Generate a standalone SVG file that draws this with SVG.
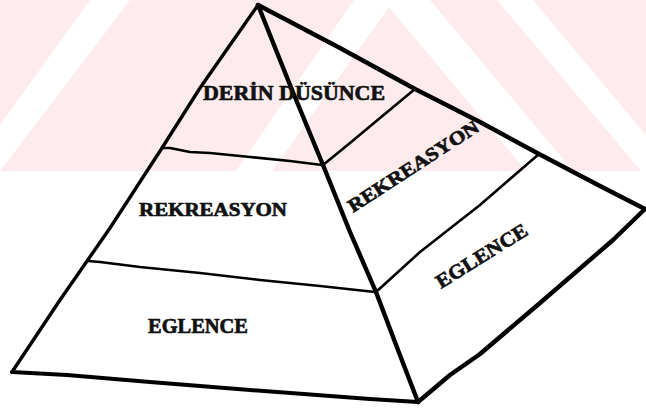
<svg xmlns="http://www.w3.org/2000/svg" width="646" height="409" viewBox="0 0 646 409">
<style>
.lbl{font-family:"Liberation Serif","Times New Roman",serif;font-weight:bold;fill:#111;stroke:#111;stroke-width:0.7;stroke-linejoin:round;}
.edge{fill:none;stroke:#000;stroke-linejoin:round;stroke-linecap:round;}
.band{fill:none;stroke:#000;stroke-width:2.6;stroke-linejoin:round;stroke-linecap:round;}
.wm{fill:#fdebee;}
.wmw{fill:#ffffff;}
</style>
<rect width="646" height="409" fill="#ffffff"/>
<g id="watermark">
<rect class="wm" x="0" y="0" width="646" height="171"/>
<polygon class="wmw" points="90,0 130,0 0,171 0,125"/>
<polygon class="wmw" points="354,0 394,0 272,171 236,171"/>
<polygon class="wmw" points="383,0 430,0 573,171 526,171"/>
<polygon class="wmw" points="497,0 533,0 676,171 641,171"/>
</g>
<g id="connectors">
<polyline class="edge" stroke-width="3.4" points="12,372 60,300 110,228 162,148 200,88 230,45 258,5"/>
<polyline class="edge" stroke-width="4" points="12,372 67,375 150,382 250,390 370,399 418,402"/>
<polyline class="edge" stroke-width="4.4" points="258,5 290,85 323,165 350,232 376,292 398,350 418,402"/>
<polyline class="edge" stroke-width="4.4" points="258,5 340,48 415,89 480,122 539,154 600,186 645,209"/>
<polyline class="edge" stroke-width="4.4" points="645,209 613,240 540,303 480,354 450,375 418,402"/>
<polyline class="band" points="162,148 170,148 190,152 210,153 250,157 290,161 322,165"/>
<polyline class="band" points="88,261 100,262 140,267 200,273 260,280 320,286 375,292"/>
<polyline class="band" points="323,165 350,143 380,118 415,89"/>
<polyline class="band" points="376,292 420,252 480,205 539,154"/>
</g>
<g id="front-top"><text class="lbl" x="203" y="100" font-size="22" textLength="182" lengthAdjust="spacingAndGlyphs">DERİN DÜSÜNCE</text></g>
<g id="front-middle"><text class="lbl" x="139" y="216" font-size="19" textLength="148" lengthAdjust="spacingAndGlyphs">REKREASYON</text></g>
<g id="front-bottom"><text class="lbl" x="148" y="333" font-size="21" textLength="100" lengthAdjust="spacingAndGlyphs">EGLENCE</text></g>
<g id="side-middle"><text class="lbl" transform="translate(353,213) rotate(-33)" font-size="19" textLength="152" lengthAdjust="spacingAndGlyphs">REKREASYON</text></g>
<g id="side-bottom"><text class="lbl" transform="translate(441,289) rotate(-32)" font-size="20" textLength="104" lengthAdjust="spacingAndGlyphs">EGLENCE</text></g>
</svg>
